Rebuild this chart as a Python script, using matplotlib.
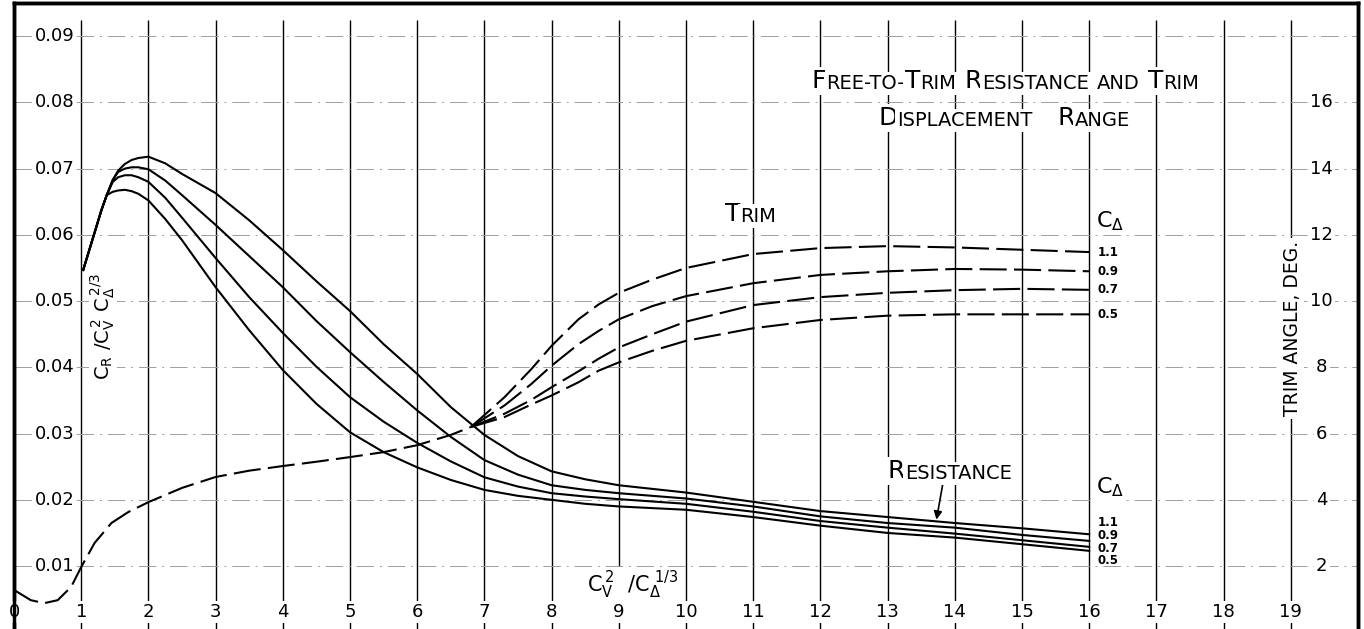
import matplotlib
matplotlib.use("Agg")
import matplotlib.pyplot as plt

# resistance coefficient C_R / C_V^2 C_delta^(2/3) vs C_V^2 / C_delta^(1/3)
res_x = [1.03, 1.18, 1.3, 1.38, 1.47, 1.55, 1.65, 1.75, 1.85, 2.0, 2.25, 2.5, 3.0, 3.5,
         4.0, 4.5, 5.0, 5.5, 6.0, 6.5, 7.0, 7.5, 8.0, 8.5, 9.0, 10, 11, 12, 13, 14, 15, 16]
res_05 = [0.0547, 0.0597, 0.0637, 0.0660, 0.0665, 0.0667, 0.0668, 0.0666, 0.0662, 0.0652,
          0.0624, 0.0592, 0.0521, 0.0456, 0.0396, 0.0345, 0.0302, 0.0272, 0.0249, 0.0230,
          0.0215, 0.0206, 0.0200, 0.0194, 0.0190, 0.0185, 0.0174, 0.0161, 0.0150, 0.0143,
          0.0133, 0.0123]
res_07 = [0.0547, 0.0597, 0.0637, 0.0660, 0.0680, 0.0687, 0.0690, 0.0690, 0.0687, 0.0680,
          0.0656, 0.0626, 0.0565, 0.0506, 0.0452, 0.0401, 0.0355, 0.0318, 0.0286, 0.0258,
          0.0234, 0.0220, 0.0210, 0.0205, 0.0201, 0.0194, 0.0182, 0.0168, 0.0158, 0.0149,
          0.0139, 0.0129]
res_09 = [0.0547, 0.0597, 0.0637, 0.0660, 0.0683, 0.0695, 0.0700, 0.0702, 0.0702, 0.0699,
          0.0682, 0.0660, 0.0615, 0.0568, 0.0521, 0.0470, 0.0423, 0.0378, 0.0335, 0.0295,
          0.0260, 0.0238, 0.0222, 0.0215, 0.0210, 0.0202, 0.0190, 0.0175, 0.0165, 0.0158,
          0.0147, 0.0138]
res_11 = [0.0547, 0.0597, 0.0637, 0.0660, 0.0683, 0.0697, 0.0707, 0.0713, 0.0716, 0.0718,
          0.0708, 0.0692, 0.0663, 0.0622, 0.0577, 0.0530, 0.0485, 0.0435, 0.0390, 0.0340,
          0.0298, 0.0266, 0.0243, 0.0231, 0.0222, 0.0211, 0.0197, 0.0183, 0.0174, 0.0165,
          0.0157, 0.0148]

# trim angle (deg), common branch then one branch per C_delta
trim_x_common = [0, 0.25, 0.45, 0.65, 0.85, 1.0, 1.2, 1.45, 1.7, 2.0, 2.5, 3.0, 3.5, 4.0,
                 4.5, 5.0, 5.5, 6.0, 6.5, 6.8]
trim_common = [1.28, 0.97, 0.88, 0.97, 1.37, 1.97, 2.7, 3.3, 3.63, 3.93, 4.36, 4.69, 4.88,
               5.02, 5.15, 5.29, 5.44, 5.65, 5.96, 6.2]
trim_x = [6.8, 7.3, 7.7, 8.0, 8.4, 8.7, 9.0, 9.5, 10, 11, 12, 13, 14, 15, 16]
trim_11 = [6.2, 7.1, 7.95, 8.65, 9.45, 9.9, 10.25, 10.65, 11.0, 11.42, 11.6, 11.66, 11.62, 11.55, 11.48]
trim_09 = [6.2, 6.85, 7.5, 8.05, 8.7, 9.1, 9.45, 9.85, 10.15, 10.54, 10.79, 10.9, 10.97, 10.95, 10.9]
trim_07 = [6.2, 6.6, 7.02, 7.4, 7.88, 8.26, 8.6, 9.0, 9.38, 9.88, 10.12, 10.25, 10.33, 10.37, 10.34]
trim_05 = [6.2, 6.5, 6.88, 7.15, 7.55, 7.9, 8.15, 8.5, 8.8, 9.18, 9.43, 9.56, 9.6, 9.6, 9.6]

cdelta = ["1.1", "0.9", "0.7", "0.5"]
x_ticks = list(range(0, 20))
y_ticks = [0.01, 0.02, 0.03, 0.04, 0.05, 0.06, 0.07, 0.08, 0.09]
trim_ticks = [2, 4, 6, 8, 10, 12, 14, 16]

plt.rcParams['font.family'] = ['DejaVu Sans']
plt.rcParams['mathtext.default'] = 'regular'
fig = plt.figure(figsize=(13.64, 6.29), dpi=100)
ax = fig.add_axes([14 / 1364, 0, 1344 / 1364, 626 / 629])
ax.set_xlim(0, 20)
ax.set_ylim(0.0005, 0.095)
ax2 = ax.twinx()
ax2.set_ylim(0.1, 19)
for a in (ax, ax2):
    a.set_xticks([])
    a.set_yticks([])
    for side in ('left', 'top', 'right'):
        a.spines[side].set_linewidth(2.5)
    a.spines['bottom'].set_visible(False)

white = dict(fc='white', ec='none', pad=1.5)

# grid
ax.vlines(x_ticks[1:], 0.0005, 0.0924, color='black', lw=1.0, zorder=1)
for yv in y_ticks:
    ax.axhline(yv, color='0.62', lw=0.7, linestyle=(0, (18, 6, 2, 6)), zorder=1)

# resistance curves
for ys in (res_05, res_07, res_09, res_11):
    ax.plot(res_x, ys, color='black', lw=1.5, zorder=2)

# trim curves
dash = (0, (13, 3.5))
ax2.plot(trim_x_common, trim_common, color='black', lw=1.5, linestyle=dash)
for ys in (trim_11, trim_09, trim_07, trim_05):
    ax2.plot(trim_x, ys, color='black', lw=1.5, linestyle=dash)

# tick labels drawn inside the frame
for xv in x_ticks:
    ax.text(xv, 0.0031, str(xv), fontsize=13, ha='center', va='center', bbox=white, zorder=5)
for yv in y_ticks:
    ax.text(0.6, yv, f"{yv:.2f}", fontsize=13, ha='center', va='center', bbox=white, zorder=5)
for tv in trim_ticks:
    ax2.text(19.46, tv, str(tv), fontsize=13, ha='center', va='center', bbox=white, zorder=5)

# axis titles
ax.text(1.33, 0.0462, r"$C_R\ /C_V^{\,2}\ C_\Delta^{\,2/3}$", rotation=90, fontsize=14,
        ha='center', va='center', bbox=dict(fc='white', ec='none', pad=0), zorder=5)
ax.text(9.21, 0.0071, r"$C_V^{\,2}\ \ /C_\Delta^{\ 1/3}$", fontsize=15, ha='center',
        va='center', bbox=white, zorder=5)
ax.text(19.02, 0.0459, "TRIM ANGLE, DEG.", rotation=90, fontsize=13.5, ha='center',
        va='center', bbox=dict(fc='white', ec='none', pad=2), zorder=5)


def small_caps(x, y, text, big=18, small=14):
    prev = None
    gap = 0
    for word in text.split(' '):
        if word == '':
            gap += 6
            continue
        runs = []
        for ch in word:
            size = big if ch.isupper() else small
            if runs and runs[-1][1] == size:
                runs[-1][0] += ch.upper()
            else:
                runs.append([ch.upper(), size])
        for j, (s, size) in enumerate(runs):
            if prev is None:
                prev = ax.text(x, y, s, fontsize=size, ha='left', va='bottom', bbox=white, zorder=5)
            else:
                off = gap if j == 0 else 0
                prev = ax.annotate(s, xy=(1, 0), xycoords=prev, xytext=(off, 0),
                                   textcoords='offset points', fontsize=size, ha='left',
                                   va='bottom', bbox=white, zorder=5)
        gap = 6


small_caps(11.875, 0.0814, "Free-to-Trim Resistance and Trim")
small_caps(12.86, 0.0758, "Displacement   Range")
small_caps(10.58, 0.0614, "Trim")
small_caps(13.0, 0.0225, "Resistance")
ax.annotate('', xy=(13.72, 0.0166), xytext=(13.83, 0.0229),
            arrowprops=dict(arrowstyle='-|>', color='black', lw=1.2, mutation_scale=12))

# C_delta labels
ax.text(16.1, 0.0612, r"$C_\Delta$", fontsize=16, ha='left', va='baseline', zorder=5)
ax.text(16.1, 0.0210, r"$C_\Delta$", fontsize=16, ha='left', va='baseline', bbox=white, zorder=5)
for lab, ys in zip(cdelta, (trim_11, trim_09, trim_07, trim_05)):
    ax2.text(16.12, ys[-1], lab, fontsize=8.5, fontweight='bold', ha='left', va='center')
for lab, yv in zip(cdelta, (0.01664, 0.01468, 0.01272, 0.01091)):
    ax.text(16.12, yv, lab, fontsize=8.5, fontweight='bold', ha='left', va='center', zorder=5)

fig.savefig("out.png", dpi=100)
